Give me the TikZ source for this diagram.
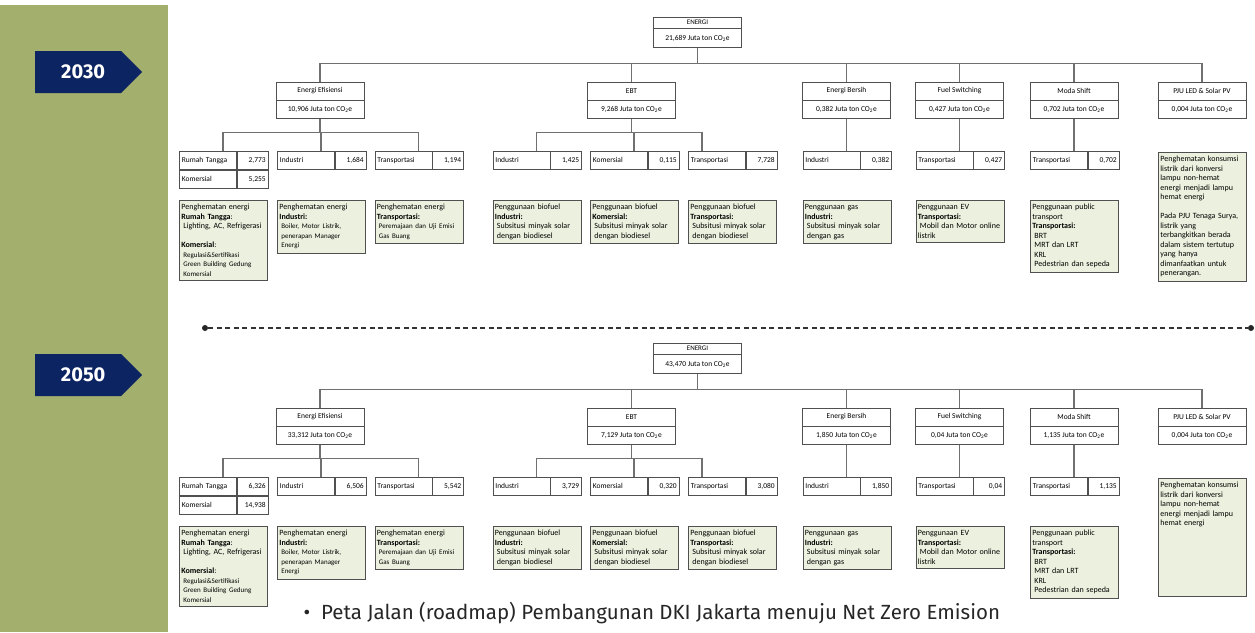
\documentclass[tikz,border=0pt]{standalone}
\usepackage{fontspec}
\setmainfont{Carlito}
\newfontfamily\headfont{Fira Sans}
\usetikzlibrary{positioning,shapes.symbols}

\definecolor{sidegreen}{HTML}{A3AF6D}
\definecolor{tagnavy}{HTML}{0D2462}
\definecolor{notegreen}{HTML}{EBF1DE}
\definecolor{boxline}{HTML}{505050}
\definecolor{treeline}{HTML}{707070}

\newcommand{\notesmall}{\fontsize{7}{9.5}\selectfont}

% one year of the roadmap; values come from \vTot, \vEE, ... set before the call
\newcommand{\roadmap}[1]{%
	\node[catbox, minimum height=11pt, font=\fontsize{7}{8}\selectfont] (energi-#1) at (697.5,22.5) {ENERGI};
	\node[catbox, below=0pt of energi-#1, minimum height=19pt] (energi-#1-val) {\vTot\ Juta ton CO\textsubscript{2}e};
	% sectors
	\foreach \n/\x/\lbl/\val in {efisiensi/320/{Energi Efisiensi}/\vEE, ebt/631.5/EBT/\vEBT, bersih/846.5/{Energi Bersih}/\vEB,
		fuel/959.5/{Fuel Switching}/\vFS, moda/1074/{Moda Shift}/\vMS, pju/1202/{PJU LED \& Solar PV}/\vPJ}{
		\node[catbox] (\n-#1) at (\x,91) {\lbl};
		\node[catbox, below=0pt of \n-#1] (\n-#1-val) {\val\ Juta ton CO\textsubscript{2}e};
		\draw[link] (energi-#1-val.south) to[elbow=15] (\n-#1.north);
	}
	% sub sectors
	\foreach \n/\p/\x/\cx/\lbl/\val in {rt/efisiensi/223/223/{Rumah Tangga}/\lRT, eeind/efisiensi/321/321/Industri/\lEEI,
		eetr/efisiensi/418.5/418.5/Transportasi/\lEET, ebtind/ebt/536.5/536.5/Industri/\lBI, ebtkom/ebt/634/634/Komersial/\lBK,
		ebttr/ebt/732/702/Transportasi/\lBT, bsind/bersih/846.5/846.5/Industri/\vEB, fstr/fuel/959.5/959.5/Transportasi/\vFS,
		mstr/moda/1074/1074/Transportasi/\vMS}{
		\coordinate (\n-#1-top) at (\cx,151);
		\node[leafname, anchor=north west] (\n-#1) at (\x-44,151) {\lbl};
		\node[leafval, right=0pt of \n-#1] (\n-#1-val) {\val};
		\draw[link] (\p-#1-val.south) to[elbow=13] (\n-#1-top);
	}
	\node[leafname, below=0pt of rt-#1] (rtkom-#1) {Komersial};
	\node[leafval, right=0pt of rtkom-#1] (rtkom-#1-val) {\lKom};
	% programmes
	\node[note] (rtnote-#1) at (179,200) {Penghematan energi\\ \textbf{Rumah Tangga}:\\ \hspace*{2pt}Lighting, AC, Refrigerasi\\[9.5pt]
		\textbf{Komersial}:\\ {\notesmall\hspace*{2pt}Regulasi\&Sertifikasi\\ \hspace*{2pt}Green Building Gedung\\ \hspace*{2pt}Komersial}};
	\node[note] (eeindnote-#1) at (277,200) {Penghematan energi\\ \textbf{Industri:}\\
		{\notesmall\hspace*{2pt}Boiler, Motor Listrik,\\ \hspace*{2pt}penerapan Manager\\ \hspace*{2pt}Energi}};
	\node[note] (eetrnote-#1) at (374.5,200) {Penghematan energi\\ \textbf{Transportasi:}\\
		{\notesmall\hspace*{2pt}Peremajaan dan Uji Emisi\\ \hspace*{2pt}Gas Buang}};
	\foreach \n/\x/\lbl in {ebtind/492.5/Industri, ebtkom/590/Komersial, ebttr/688/Transportasi}
		\node[note] (\n note-#1) at (\x,200) {Penggunaan biofuel\\ \textbf{\lbl:}\\ \hspace*{2pt}Subsitusi minyak solar\\ \hspace*{2pt}dengan biodiesel};
	\node[note] (bsnote-#1) at (802.5,200) {Penggunaan gas\\ \textbf{Industri:}\\ \hspace*{2pt}Subsitusi minyak solar\\ \hspace*{2pt}dengan gas};
	\node[note] (fsnote-#1) at (915.5,200) {Penggunaan EV\\ \textbf{Transportasi:}\\ \hspace*{2pt}Mobil dan Motor online\\ listrik};
	\node[note] (msnote-#1) at (1030,200) {Penggunaan public\\ transport\\ \textbf{Transportasi:}\\ \hspace*{2pt}BRT\\
		\hspace*{2pt}MRT dan LRT\\ \hspace*{2pt}KRL\\ \hspace*{2pt}Pedestrian dan sepeda};
	\node[note] (pjunote-#1) at (1158,152) {\vPJnote};
}

\begin{document}
\begin{tikzpicture}[x=1pt, y=-1pt, font=\fontsize{7.5}{9}\selectfont,
	catbox/.style={draw=boxline, line width=0.8pt, fill=white, minimum width=88pt, minimum height=18pt, inner sep=0pt},
	leafname/.style={draw=boxline, line width=0.8pt, minimum height=18pt, text width=52pt, inner xsep=2.5pt, inner ysep=0pt, align=left},
	leafval/.style={leafname, text width=26pt, align=right},
	note/.style={draw=boxline, line width=0.8pt, fill=notegreen, anchor=north west, text width=84pt, inner xsep=2pt,
		inner ysep=4pt, align=left, font=\fontsize{8}{9.5}\selectfont},
	link/.style={draw=treeline, line width=1.2pt},
	elbow/.style={to path={(\tikztostart) -- ++(0,#1) -| (\tikztotarget)}},
	yeartag/.style={signal, signal to=east, signal pointer angle=90, fill=tagnavy, text=white, minimum width=107pt,
		minimum height=42pt, inner sep=0pt, anchor=west, font=\headfont\bfseries\fontsize{20}{22}\selectfont},
	dot/.style={circle, fill=black!85, inner sep=0pt, minimum size=6pt},
	sepline/.style={draw=black!80, line width=1.2pt, dash pattern=on 5pt off 3.5pt},
	caption/.style={anchor=west, text=black!85, font=\headfont\fontsize{20.5}{24}\selectfont}]
	\useasboundingbox (0,0) rectangle (1255,632);
	\fill[sidegreen] (0,5) rectangle (168,632);

	\node[yeartag] (y2030) at (35,72)  {\hspace*{10pt}2030};
	\node[yeartag] (y2050) at (35,375) {\hspace*{10pt}2050};

	% 2030
	\def\vTot{21,689}\def\vEE{10,906}\def\vEBT{9,268}\def\vEB{0,382}\def\vFS{0,427}\def\vMS{0,702}\def\vPJ{0,004}
	\def\lRT{2,773}\def\lKom{5,255}\def\lEEI{1,684}\def\lEET{1,194}\def\lBI{1,425}\def\lBK{0,115}\def\lBT{7,728}
	\def\vPJnote{Penghematan konsumsi\\ listrik dari konversi\\ lampu non-hemat\\ energi menjadi lampu\\ hemat energi\\[9.5pt]
		Pada PJU Tenaga Surya,\\ listrik yang\\ terbangkitkan berada\\ dalam sistem tertutup\\ yang hanya\\ dimanfaatkan untuk\\ penerangan.}
	\roadmap{a}

	\node[dot] (sepL) at (205,328) {};
	\node[dot] (sepR) at (1251,328) {};
	\draw[sepline] (sepL) -- (sepR);

	% 2050
	\begin{scope}[yshift=-326pt]
		\def\vTot{43,470}\def\vEE{33,312}\def\vEBT{7,129}\def\vEB{1,850}\def\vFS{0,04}\def\vMS{1,135}\def\vPJ{0,004}
		\def\lRT{6,326}\def\lKom{14,938}\def\lEEI{6,506}\def\lEET{5,542}\def\lBI{3,729}\def\lBK{0,320}\def\lBT{3,080}
		\def\vPJnote{Penghematan konsumsi\\ listrik dari konversi\\ lampu non-hemat\\ energi menjadi lampu\\ hemat energi\\ \rule{0pt}{64pt}}
		\roadmap{b}
	\end{scope}

	\node[caption] (caption) at (300,613) {\textbullet\hspace{11pt}Peta Jalan (roadmap) Pembangunan DKI Jakarta menuju Net Zero Emision};
\end{tikzpicture}
\end{document}
